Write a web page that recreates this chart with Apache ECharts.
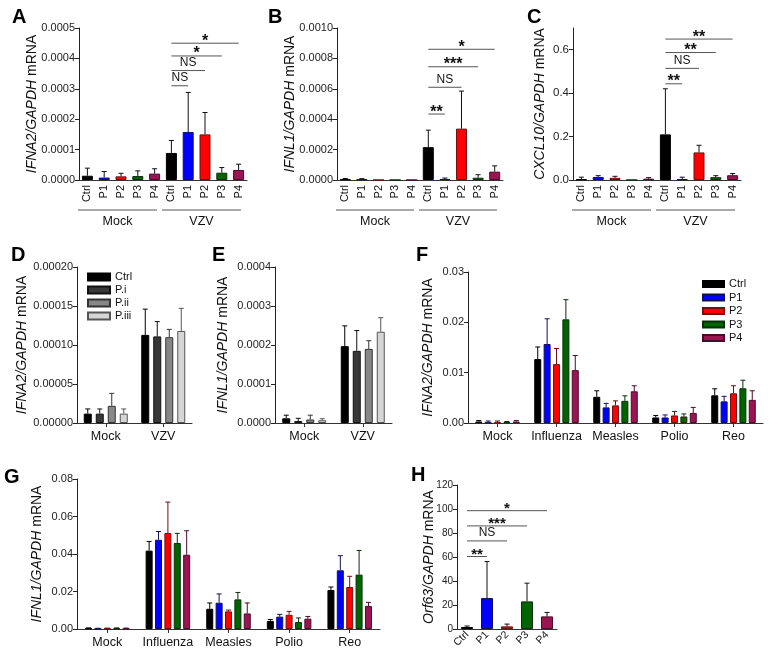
<!DOCTYPE html>
<html>
<head>
<meta charset="UTF-8">
<title>IFN expression panels</title>
<script src="https://cdn.jsdelivr.net/npm/echarts@6/dist/echarts.min.js"></script>
</head>
<body style="margin:0">
<div id="chart" style="width:780px;height:660px"></div>
<script>
// ---- data ----
const vzvCats = ['Ctrl', 'P1', 'P2', 'P3', 'P4', 'Ctrl', 'P1', 'P2', 'P3', 'P4'];
const vzvGroups = [[0, 4, 'Mock'], [5, 9, 'VZV']];

const aMean = [0.000014, 0.000008, 0.000012, 0.000013, 0.000021, 0.000089, 0.000158, 0.000150, 0.000024, 0.000033];
const aErr  = [0.000039, 0.000028, 0.000022, 0.000030, 0.000037, 0.000130, 0.000288, 0.000222, 0.000041, 0.000052];
const aSig  = [[5, 6, 0.00031, 'NS'], [5, 7, 0.00036, 'NS'], [5, 8, 0.000408, '*'], [5, 9, 0.00045, '*']];

const bMean = [0.000005, 0.000004, 0, 0, 0, 0.000216, 0.000007, 0.000338, 0.000015, 0.000055];
const bErr  = [0.000010, 0.000009, 0, 0, 0, 0.000328, 0.000013, 0.000585, 0.000035, 0.000093];
const bSig  = [[5, 6, 0.000434, '**'], [5, 7, 0.00061, 'NS'], [5, 8, 0.000745, '***'], [5, 9, 0.00086, '*']];

const cMean = [0.003, 0.014, 0.010, 0, 0.006, 0.210, 0.004, 0.127, 0.013, 0.022];
const cErr  = [0.013, 0.020, 0.017, 0, 0.011, 0.420, 0.013, 0.160, 0.020, 0.030];
const cSig  = [[5, 6, 0.443, '**'], [5, 7, 0.514, 'NS'], [5, 8, 0.587, '**'], [5, 9, 0.649, '**']];

const deCats = ['Mock', 'VZV'];
const deNames = ['Ctrl', 'P.i', 'P.ii', 'P.iii'];
const dMean = [[0.000012, 0.000113], [0.000012, 0.000111], [0.000022, 0.000110], [0.000012, 0.000118]];
const dErr  = [[0.000018, 0.000146], [0.000018, 0.000130], [0.000038, 0.000120], [0.000018, 0.000147]];
const eMean = [[0.000012, 0.000197], [0.000005, 0.000185], [0.000009, 0.000190], [0.000007, 0.000234]];
const eErr  = [[0.000020, 0.000249], [0.000012, 0.000237], [0.000020, 0.000211], [0.000011, 0.000270]];

const virusCats = ['Mock', 'Influenza', 'Measles', 'Polio', 'Reo'];
const pNames = ['Ctrl', 'P1', 'P2', 'P3', 'P4'];
const fMean = [
  [0.0003, 0.0127, 0.0052, 0.0011, 0.0055],
  [0.0001, 0.0157, 0.0031, 0.0011, 0.0043],
  [0.0002, 0.0117, 0.0035, 0.0015, 0.0059],
  [0.0002, 0.0206, 0.0044, 0.0013, 0.0069],
  [0.0003, 0.0105, 0.0063, 0.0020, 0.0046]
];
const fErr = [
  [0.0005, 0.0151, 0.0064, 0.0015, 0.0068],
  [0.0004, 0.0207, 0.0039, 0.0016, 0.0053],
  [0.0004, 0.0148, 0.0044, 0.0023, 0.0074],
  [0.0003, 0.0245, 0.0054, 0.0018, 0.0085],
  [0.0005, 0.0134, 0.0074, 0.0031, 0.0064]
];
const gMean = [
  [0.0004, 0.0418, 0.0108, 0.0043, 0.0208],
  [0.0002, 0.0476, 0.0140, 0.0066, 0.0313],
  [0.0003, 0.0512, 0.0094, 0.0076, 0.0224],
  [0.0004, 0.0459, 0.0158, 0.0037, 0.0290],
  [0.0003, 0.0396, 0.0083, 0.0055, 0.0123]
];
const gErr = [
  [0.0006, 0.0467, 0.0139, 0.0051, 0.0224],
  [0.0004, 0.0520, 0.0187, 0.0078, 0.0391],
  [0.0005, 0.0677, 0.0101, 0.0094, 0.0281],
  [0.0006, 0.0510, 0.0195, 0.0059, 0.0419],
  [0.0005, 0.0524, 0.0139, 0.0067, 0.0142]
];

const hCats = ['Ctrl', 'P1', 'P2', 'P3', 'P4'];
const hMean = [1.7, 25.8, 2.2, 23.0, 10.5];
const hErr  = [2.5, 56.2, 4.1, 38.2, 13.8];
const hSig  = [[0, 1, 60.4, '**'], [0, 2, 73.4, 'NS'], [0, 3, 85.9, '***'], [0, 4, 98.6, '*']];

// ---- styles ----
const font = 'Liberation Sans';
const pal = ['#000000', '#0000ff', '#ff0000', '#006400', '#9b1553'];
const palBorder = ['#000000', '#10105a', '#701010', '#0b2e0b', '#4a0a28'];
const grayFill = ['#000000', '#383838', '#878787', '#d6d6d6'];
const grayLine = ['#000000', '#111111', '#333333', '#555555'];

const chart = echarts.init(document.getElementById('chart'));

const grids = [
  {left: 79, top: 28, width: 168, height: 152},
  {left: 337, top: 28, width: 166, height: 152},
  {left: 573, top: 28, width: 168, height: 152},
  {left: 77, top: 267, width: 115, height: 156},
  {left: 275, top: 267, width: 117, height: 156},
  {left: 468, top: 272, width: 295, height: 151},
  {left: 77, top: 479, width: 303, height: 150},
  {left: 457, top: 485, width: 100, height: 144}
].map(g => Object.assign({outerBoundsMode: 'none', containLabel: false}, g));

function yAx(gi, max, step, dec, gene, gap, fs, extra) {
  return Object.assign({
    type: 'value', gridIndex: gi, min: 0, max: max, interval: step,
    name: '{i|' + gene + '} mRNA', nameLocation: 'middle', nameGap: gap, nameRotate: 90,
    nameMoveOverlap: false,
    nameTextStyle: {fontFamily: font, fontSize: 14, color: '#111',
      rich: {i: {fontFamily: font, fontSize: 14, fontStyle: 'italic', color: '#111'}}},
    axisLine: {show: true, lineStyle: {color: '#222'}},
    axisTick: {show: true, length: 4, lineStyle: {color: '#222'}},
    splitLine: {show: false},
    axisLabel: {fontFamily: font, fontSize: fs, color: '#222', margin: 4,
      formatter: v => v.toFixed(dec)}
  }, extra || {});
}

function xAx(gi, cats, label, tick) {
  return {
    type: 'category', gridIndex: gi, data: cats,
    axisLine: {lineStyle: {color: '#333'}},
    axisTick: tick ? {show: true, alignWithLabel: true, length: 4, lineStyle: {color: '#333'}} : {show: false},
    axisLabel: Object.assign({fontFamily: font, color: '#111', interval: 0}, label)
  };
}

const xAxes = [
  xAx(0, vzvCats, {rotate: 90, fontSize: 11, margin: 5}, false),
  xAx(1, vzvCats, {rotate: 90, fontSize: 11, margin: 5}, false),
  xAx(2, vzvCats, {rotate: 90, fontSize: 11, margin: 5}, false),
  xAx(3, deCats, {fontSize: 12.5, margin: 7}, true),
  xAx(4, deCats, {fontSize: 12.5, margin: 7}, true),
  xAx(5, virusCats, {fontSize: 12.5, margin: 7}, true),
  xAx(6, virusCats, {fontSize: 12.5, margin: 7}, true),
  xAx(7, hCats, {rotate: 45, fontSize: 10.5, margin: 4}, false)
];

const yAxes = [
  yAx(0, 0.0005, 0.0001, 4, 'IFNA2/GAPDH', 40, 11),
  yAx(1, 0.0010, 0.0002, 4, 'IFNL1/GAPDH', 40, 11),
  yAx(2, 0.7, 0.2, 1, 'CXCL10/GAPDH', 26, 11.5),
  yAx(3, 0.0002, 0.00005, 5, 'IFNA2/GAPDH', 48, 11),
  yAx(4, 0.0004, 0.0001, 4, 'IFNL1/GAPDH', 45, 11),
  yAx(5, 0.03, 0.01, 2, 'IFNA2/GAPDH', 33, 11),
  yAx(6, 0.08, 0.02, 2, 'IFNL1/GAPDH', 33, 11),
  yAx(7, 120, 20, 0, 'Orf63/GAPDH', 21, 10)
];
yAxes[2].axisLabel.customValues = [0, 0.2, 0.4, 0.6];
yAxes[2].axisTick.customValues = [0, 0.2, 0.4, 0.6];

// error bar drawn from mean up to mean+SD
function errSeries(gi, means, errs, offset, colors) {
  return {
    type: 'custom', xAxisIndex: gi, yAxisIndex: gi, z: 3, silent: true,
    data: means.map((m, i) => [i, m, errs[i]]),
    encode: {x: 0, y: [1, 2]},
    renderItem: function (p, api) {
      const m = api.value(1), e = api.value(2);
      if (!(e > m)) return;
      const b = api.coord([api.value(0), m]);
      const t = api.coord([api.value(0), e]);
      const x = b[0] + offset;
      const c = Array.isArray(colors) ? colors[p.dataIndex] : colors;
      return {type: 'group', children: [
        {type: 'line', shape: {x1: x, y1: b[1], x2: x, y2: t[1]}, style: {stroke: c, lineWidth: 1}},
        {type: 'line', shape: {x1: x - 2.5, y1: t[1], x2: x + 2.5, y2: t[1]}, style: {stroke: c, lineWidth: 1}}
      ]};
    }
  };
}

function sigSeries(gi, sig, starSize) {
  return {
    type: 'custom', xAxisIndex: gi, yAxisIndex: gi, z: 4, silent: true,
    data: sig.map(s => [s[0], s[1], s[2]]),
    encode: {x: [0, 1], y: 2},
    renderItem: function (p, api) {
      const a = api.coord([api.value(0), api.value(2)]);
      const b = api.coord([api.value(1), api.value(2)]);
      const lab = sig[p.dataIndex][3];
      const ns = lab === 'NS';
      return {type: 'group', children: [
        {type: 'line', shape: {x1: a[0], y1: a[1], x2: b[0], y2: b[1]}, style: {stroke: '#555', lineWidth: 1}},
        {type: 'text', x: (a[0] + b[0]) / 2, y: ns ? a[1] - 2 : a[1] + starSize * 0.38,
          style: {text: lab, fill: '#111', textAlign: 'center', textVerticalAlign: 'bottom',
            font: ns ? '12px ' + font : 'bold ' + starSize + 'px ' + font}}
      ]};
    }
  };
}

function groupSeries(gi, groups, drop) {
  return {
    type: 'custom', xAxisIndex: gi, yAxisIndex: gi, z: 2, silent: true, clip: false,
    data: groups.map(g => [g[0], g[1], 0]),
    encode: {x: [0, 1], y: 2},
    renderItem: function (p, api) {
      const a = api.coord([api.value(0), 0]);
      const b = api.coord([api.value(1), 0]);
      const h = api.size([1, 0])[0] / 2;
      const y = a[1] + drop;
      const x1 = a[0] - h - 1, x2 = b[0] + h - 6;
      return {type: 'group', children: [
        {type: 'line', shape: {x1: x1, y1: y, x2: x2, y2: y}, style: {stroke: '#555', lineWidth: 1}},
        {type: 'text', x: (x1 + x2) / 2, y: y + 5,
          style: {text: groups[p.dataIndex][2], fill: '#111', textAlign: 'center', textVerticalAlign: 'top',
            font: '12.5px ' + font}}
      ]};
    }
  };
}

const series = [];

// single-series panels A, B, C, H (colours per bar)
[[0, aMean, aErr, aSig, 11], [1, bMean, bErr, bSig, 11], [2, cMean, cErr, cSig, 11], [7, hMean, hErr, hSig, 12]]
  .forEach(function (p) {
    const gi = p[0];
    series.push({
      type: 'bar', name: 'panel' + gi, xAxisIndex: gi, yAxisIndex: gi, barWidth: p[4],
      data: p[1].map((v, i) => ({value: v, itemStyle: {color: pal[i % 5], borderColor: palBorder[i % 5], borderWidth: 1}}))
    });
    series.push(errSeries(gi, p[1], p[2], 0, '#111'));
    series.push(sigSeries(gi, p[3], gi === 7 ? 15 : 16));
  });
[0, 1, 2].forEach(gi => series.push(groupSeries(gi, vzvGroups, 30)));

// grouped panels D, E (grey), F, G (colour)
function groupedPanel(gi, names, means, errs, fills, lines, w, gap) {
  const n = names.length;
  names.forEach(function (nm, k) {
    series.push({
      type: 'bar', name: nm, xAxisIndex: gi, yAxisIndex: gi, barWidth: w, barGap: (gap * 100) + '%',
      itemStyle: {color: fills[k], borderColor: lines[k], borderWidth: 1},
      data: means[k]
    });
    const off = (k - (n - 1) / 2) * w * (1 + gap);
    series.push(errSeries(gi, means[k], errs[k], off, k === 0 ? '#000' : lines[k]));
  });
}
groupedPanel(3, deNames, dMean, dErr, grayFill, grayLine, 8, 0.5);
groupedPanel(4, deNames, eMean, eErr, grayFill, grayLine, 8, 0.5);
groupedPanel(5, pNames, fMean, fErr, pal, palBorder, 7, 0.34);
groupedPanel(6, pNames, gMean, gErr, pal, palBorder, 7, 0.34);

const legendBase = {
  orient: 'vertical', icon: 'rect', itemWidth: 22, itemHeight: 7, itemGap: 1,
  selectedMode: false,
  textStyle: {fontFamily: font, fontSize: 11, color: '#111', lineHeight: 12}
};

const letters = [['A', 12, 7], ['B', 268, 7], ['C', 527, 7], ['D', 11, 245], ['E', 212, 245],
  ['F', 416, 245], ['G', 4, 467], ['H', 411, 465]];

chart.setOption({
  animation: false,
  backgroundColor: '#fff',
  grid: grids,
  xAxis: xAxes,
  yAxis: yAxes,
  legend: [
    Object.assign({}, legendBase, {data: deNames, left: 82, top: 266}),
    Object.assign({}, legendBase, {data: pNames, left: 697, top: 273, itemWidth: 21, itemHeight: 6, itemGap: 1.5})
  ],
  graphic: letters.map(l => ({
    type: 'text', left: l[1], top: l[2],
    style: {text: l[0], font: 'bold 20px ' + font, fill: '#000'}
  })),
  series: series
});
</script>
</body>
</html>
